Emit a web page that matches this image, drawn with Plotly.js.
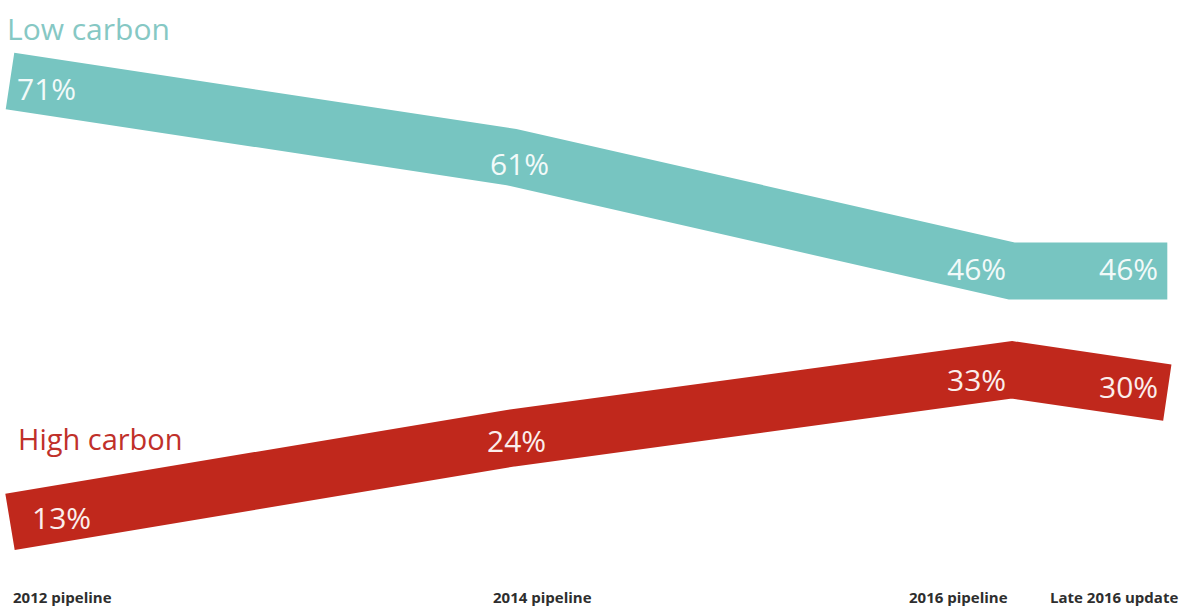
<!DOCTYPE html>
<html>
<head>
<meta charset="utf-8">
<script src="https://cdn.plot.ly/plotly-3.0.1.min.js"></script>
<style>html,body{margin:0;padding:0;background:#fff;}#chart{width:1196px;height:606px;}</style>
</head>
<body>
<div id="chart"></div>
<script>
// Data
const stagePos = [2012, 2014, 2016, 2016.62];
const stageLabels = ['2012 pipeline', '2014 pipeline', '2016 pipeline', 'Late 2016 update'];
const lowCarbon = [71, 61, 46, 46];
const highCarbon = [13, 24, 33, 30];
const seriesNames = ['Low carbon', 'High carbon'];

// Styles
const tealBand = '#77c5c1';
const tealText = '#86c8c4';
const redBand = '#c0281c';
const redText = '#c0302a';
const font = '"Open Sans", "Noto Sans", sans-serif';

const traces = [
  {x: stagePos, y: lowCarbon, mode: 'lines', line: {color: tealBand, width: 57}, hoverinfo: 'skip', showlegend: false},
  {x: stagePos, y: highCarbon, mode: 'lines', line: {color: redBand, width: 57}, hoverinfo: 'skip', showlegend: false}
];

// per-label placement styles
const lowPlace = [
  {xanchor: 'left', xshift: 5, yshift: -7},
  {xanchor: 'center', xshift: 8, yshift: -6},
  {xanchor: 'right', xshift: -4, yshift: 3},
  {xanchor: 'right', xshift: -7, yshift: 3}
];
const highPlace = [
  {xanchor: 'left', xshift: 20, yshift: 4},
  {xanchor: 'center', xshift: 5, yshift: -2},
  {xanchor: 'right', xshift: -4, yshift: -10},
  {xanchor: 'right', xshift: -7, yshift: 6}
];
const labelPlace = [
  {xanchor: 'left', xshift: 1},
  {xanchor: 'center', xshift: 31},
  {xanchor: 'right', xshift: -2},
  {xanchor: 'right', xshift: 13}
];

const annotations = [];
lowCarbon.forEach((v, i) => annotations.push(Object.assign({
  x: stagePos[i], y: v, xref: 'x', yref: 'y', text: v + '%', showarrow: false,
  yanchor: 'middle', font: {family: font, size: 30, color: '#f2faf9'}
}, lowPlace[i])));
highCarbon.forEach((v, i) => annotations.push(Object.assign({
  x: stagePos[i], y: v, xref: 'x', yref: 'y', text: v + '%', showarrow: false,
  yanchor: 'middle', font: {family: font, size: 30, color: '#fbeeec'}
}, highPlace[i])));
stageLabels.forEach((t, i) => annotations.push(Object.assign({
  x: stagePos[i], y: 597, xref: 'x', yref: 'paper', text: '<b>' + t + '</b>', showarrow: false,
  yanchor: 'middle', font: {family: font, size: 15, color: '#2e2e2e'}
}, labelPlace[i])));
annotations.push({x: 5, y: 28, xref: 'paper', yref: 'paper', text: seriesNames[0], showarrow: false,
  xanchor: 'left', yanchor: 'middle', font: {family: font, size: 30, color: tealText}});
annotations.push({x: 16, y: 438, xref: 'paper', yref: 'paper', text: seriesNames[1], showarrow: false,
  xanchor: 'left', yanchor: 'middle', font: {family: font, size: 29, color: redText}});

// convert pixel-based paper positions for names/labels
annotations.forEach(a => {
  if (a.xref === 'paper') a.x = a.x / 1196;
  if (a.yref === 'paper') a.y = 1 - a.y / 606;
});

const layout = {
  width: 1196, height: 606,
  margin: {l: 0, r: 0, t: 0, b: 0},
  paper_bgcolor: '#ffffff', plot_bgcolor: '#ffffff',
  xaxis: {range: [2012 - 10 / 250.5, 2012 + 1186 / 250.5], visible: false, fixedrange: true},
  yaxis: {range: [46 - 335 / 7.6, 46 + 271 / 7.6], visible: false, fixedrange: true},
  annotations: annotations,
  showlegend: false
};

Plotly.newPlot('chart', traces, layout, {displayModeBar: false, staticPlot: true});
</script>
</body>
</html>
